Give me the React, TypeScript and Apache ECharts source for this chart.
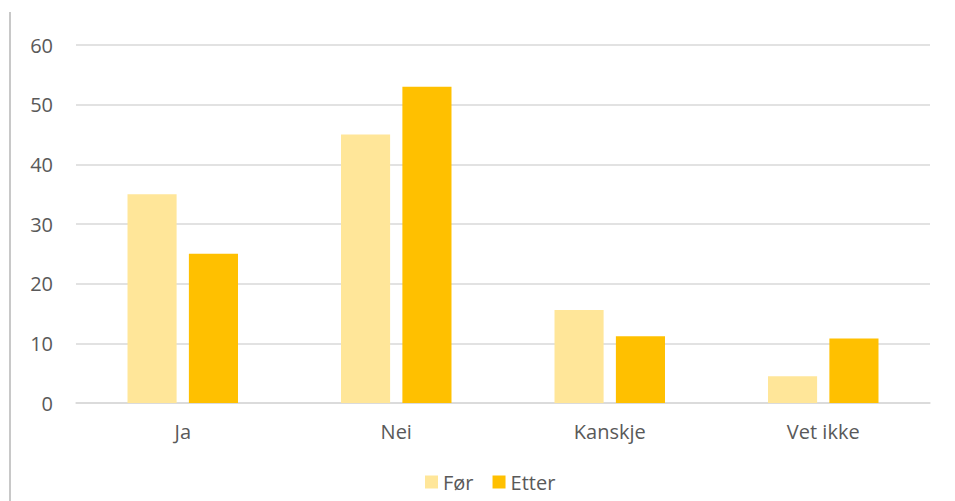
import React, { useEffect, useRef } from "react";
import * as echarts from "echarts";

const categories = ["Ja", "Nei", "Kanskje", "Vet ikke"];
const forValues = [35, 45, 15.6, 4.5];
const etterValues = [25, 53, 11.2, 10.8];
const seriesNames = ["Før", "Etter"];

export default function App() {
  const ref = useRef<HTMLDivElement>(null);
  useEffect(() => {
    if (!ref.current) return;
    const chart = echarts.init(ref.current, null, { renderer: "svg" });
    const font = "'Open Sans', 'Noto Sans', sans-serif";
    chart.setOption({
      animation: false,
      textStyle: { fontFamily: font },
      grid: { left: 76, right: 25, top: 45, bottom: 98, containLabel: false },
      legend: {
        data: seriesNames,
        bottom: 4,
        left: 420,
        itemWidth: 13,
        itemHeight: 13,
        itemGap: 19,
        icon: "rect",
        textStyle: { color: "#595959", fontSize: 20, fontFamily: font },
      },
      xAxis: {
        type: "category",
        data: categories,
        axisLine: { lineStyle: { color: "#d9d9d9", width: 1.5 } },
        axisTick: { show: false },
        axisLabel: { color: "#595959", fontSize: 20, margin: 18, fontFamily: font },
      },
      yAxis: {
        type: "value",
        min: 0,
        max: 60,
        interval: 10,
        axisLine: { show: false },
        axisTick: { show: false },
        splitLine: { lineStyle: { color: "#d9d9d9", width: 1.5 } },
        axisLabel: { color: "#595959", fontSize: 20, margin: 23, fontFamily: font },
      },
      series: [
        {
          name: seriesNames[0],
          type: "bar",
          data: forValues,
          barWidth: "23%",
          barGap: "25%",
          itemStyle: { color: "#FFE699" },
        },
        {
          name: seriesNames[1],
          type: "bar",
          data: etterValues,
          barWidth: "23%",
          itemStyle: { color: "#FFC000" },
        },
      ],
      graphic: [
        {
          type: "line",
          shape: { x1: 10, y1: 12, x2: 10, y2: 501 },
          style: { stroke: "#c8c8c8", lineWidth: 2 },
        },
      ],
    });
    return () => chart.dispose();
  }, []);
  return <div ref={ref} style={{ width: 955, height: 501, position: "absolute", left: 0, top: 0 }} />;
}
